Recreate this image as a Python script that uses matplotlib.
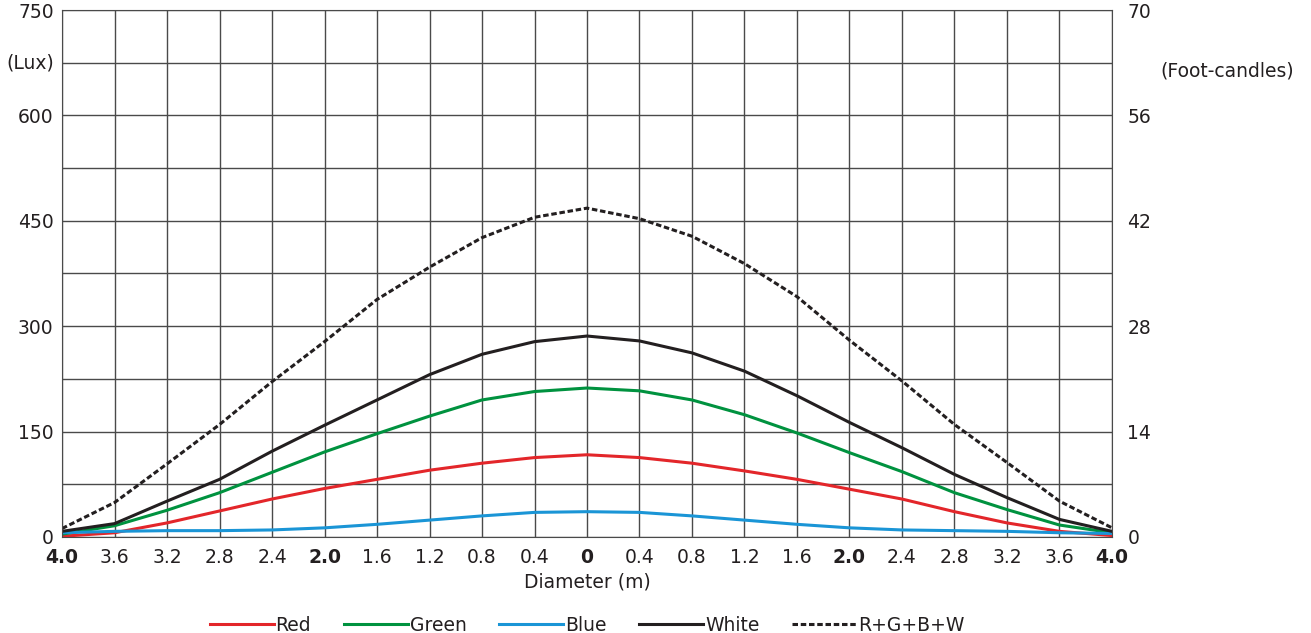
import matplotlib
matplotlib.use('Agg')
import matplotlib.pyplot as plt

# diameter positions (m), -4 .. 4 in 0.4 steps
diameter = [-4.0, -3.6, -3.2, -2.8, -2.4, -2.0, -1.6, -1.2, -0.8, -0.4, 0.0,
            0.4, 0.8, 1.2, 1.6, 2.0, 2.4, 2.8, 3.2, 3.6, 4.0]

# illuminance in lux
red = [1, 6, 20, 37, 54, 69, 82, 95, 105, 113, 117,
       113, 105, 94, 82, 68, 54, 36, 20, 8, 2]
green = [4, 16, 38, 63, 92, 121, 147, 172, 195, 207, 212,
         208, 195, 174, 148, 120, 93, 63, 39, 17, 6]
blue = [6, 8, 9, 9, 10, 13, 18, 24, 30, 35, 36,
        35, 30, 24, 18, 13, 10, 9, 8, 6, 5]
white = [8, 19, 51, 82, 122, 159, 195, 231, 260, 278, 286,
         279, 262, 236, 201, 163, 127, 89, 56, 25, 8]
rgbw = [12, 49, 104, 160, 221, 278, 338, 384, 426, 455, 468,
        453, 428, 389, 342, 280, 222, 160, 106, 51, 13]

xticks = [-4.0, -3.6, -3.2, -2.8, -2.4, -2.0, -1.6, -1.2, -0.8, -0.4, 0.0,
          0.4, 0.8, 1.2, 1.6, 2.0, 2.4, 2.8, 3.2, 3.6, 4.0]
xlabels = ['4.0', '3.6', '3.2', '2.8', '2.4', '2.0', '1.6', '1.2', '0.8', '0.4', '0',
           '0.4', '0.8', '1.2', '1.6', '2.0', '2.4', '2.8', '3.2', '3.6', '4.0']
bold_labels = ['4.0', '2.0', '0']
lux_ticks = [0, 150, 300, 450, 600, 750]
fc_ticks = [0, 14, 28, 42, 56, 70]

matplotlib.rcParams.update({'font.size': 13.5, 'font.family': 'DejaVu Sans'})
txt = '#231f20'

fig = plt.figure(figsize=(13.11, 6.33), dpi=100)
ax = fig.add_axes([0.0473, 0.1517, 0.8009, 0.8325])

ax.plot(diameter, red, color='#e3262a', lw=2.2, label='Red')
ax.plot(diameter, green, color='#00923f', lw=2.2, label='Green')
ax.plot(diameter, blue, color='#1a95d6', lw=2.2, label='Blue')
ax.plot(diameter, white, color='#231f20', lw=2.2, label='White')
ax.plot(diameter, rgbw, color='#231f20', lw=2.2, dashes=(1.8, 0.9), label='R+G+B+W')

ax.set_xlim(-4, 4)
ax.set_ylim(0, 750)
ax.set_xticks(xticks)
ax.set_xticklabels(xlabels)
for lab in ax.get_xticklabels():
    if lab.get_text() in bold_labels:
        lab.set_fontweight('bold')
ax.set_yticks(lux_ticks)
ax.set_yticks(range(0, 751, 75), minor=True)
ax.grid(True, which='both', color='#4a4a4a', lw=1.0)
ax.tick_params(which='both', length=0, pad=6, colors=txt)
ax.tick_params(axis='x', pad=8)
for s in ax.spines.values():
    s.set_color('#4a4a4a')
ax.text(-4.06, 675, '(Lux)', ha='right', va='center', color=txt)
ax.set_xlabel('Diameter (m)', color=txt, labelpad=4)

ax2 = ax.twinx()
ax2.set_ylim(0, 70)
ax2.set_yticks(fc_ticks)
ax2.tick_params(length=0, pad=11, colors=txt)
for s in ax2.spines.values():
    s.set_visible(False)
ax2.text(1.046, 0.885, '(Foot-candles)', transform=ax.transAxes, ha='left', va='center', color=txt)

ax.legend(loc='upper center', bbox_to_anchor=(0.5, -0.118), ncol=5, frameon=False,
          handlelength=3.4, handletextpad=0.1, columnspacing=1.75, fontsize=13.5,
          labelcolor=txt)

fig.savefig('out.png', dpi=100)
